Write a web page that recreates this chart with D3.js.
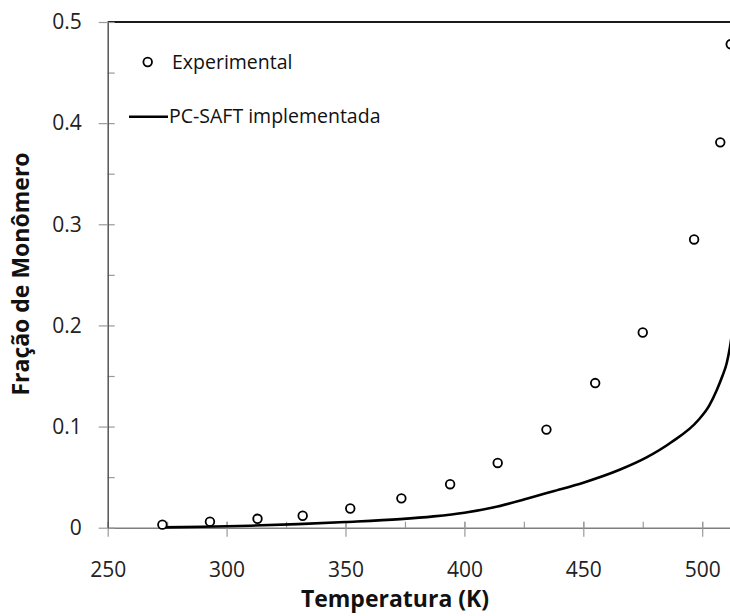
<!DOCTYPE html>
<html>
<head>
<meta charset="utf-8">
<script src="https://cdn.jsdelivr.net/npm/d3@7"></script>
<style>
  html, body { margin: 0; padding: 0; background: #fff; }
  svg { display: block; font-family: "Open Sans", sans-serif; }
</style>
</head>
<body>
<div id="chart"></div>
<script>
// experimental points
const expTemp = [273, 293, 313, 332, 352, 373.5, 394, 414, 434.5, 455, 475, 496.6, 507.6, 512];
const expFrac = [0.003, 0.006, 0.0088, 0.0118, 0.019, 0.029, 0.043, 0.064, 0.097, 0.143, 0.193, 0.285, 0.381, 0.478];

// PC-SAFT curve
const saftTemp = [273, 290, 310, 330, 350, 373, 387, 400, 412, 425, 437, 450, 465, 476.6, 487, 498.4, 503, 506.1, 508.5, 510.3, 511.7, 513];
const saftFrac = [0.0003, 0.0009, 0.0020, 0.0035, 0.0056, 0.0085, 0.0112, 0.0148, 0.0200, 0.0278, 0.0358, 0.0445, 0.0570, 0.0695, 0.0845, 0.1065, 0.1210, 0.1360, 0.1500, 0.1626, 0.1790, 0.2000];

const xTicks = [250, 300, 350, 400, 450, 500];
const xMinor = [250, 275, 300, 325, 350, 375, 400, 425, 450, 475, 500, 525];
const yTicks = [0, 0.1, 0.2, 0.3, 0.4, 0.5];
const yMinor = [0, 0.05, 0.1, 0.15, 0.2, 0.25, 0.3, 0.35, 0.4, 0.45, 0.5];

const width = 730, height = 616;
const x0 = 107.7, y0 = 527.7, yTop = 22;

const svg = d3.select("#chart").append("svg")
  .attr("width", width)
  .attr("height", height);

const x = d3.scaleLinear().domain([250, 550]).range([x0, x0 + 6 * 118.9]);
const y = d3.scaleLinear().domain([0, 0.5]).range([y0, yTop]);

// top border
svg.append("line")
  .attr("x1", x0).attr("x2", width)
  .attr("y1", yTop).attr("y2", yTop)
  .attr("stroke", "#1a1a1a").attr("stroke-width", 2);

// x axis: inside minor ticks, then crossing major ticks with labels
const gxMinor = svg.append("g")
  .attr("transform", `translate(0,${y0})`)
  .call(d3.axisTop(x).tickValues(xMinor).tickSize(6).tickSizeOuter(0).tickFormat(""));
gxMinor.select(".domain").remove();

const gx = svg.append("g")
  .attr("transform", `translate(0,${y0})`)
  .call(d3.axisBottom(x).tickValues(xTicks).tickSize(9).tickSizeOuter(0).tickPadding(25));
gx.select(".domain").attr("stroke", "#7f7f7f").attr("stroke-width", 1.5);
gx.selectAll(".tick line").attr("y1", -6);
svg.selectAll("g .tick line").attr("stroke", "#9a9a9a").attr("stroke-width", 1.2);
gx.selectAll("text")
  .attr("font-size", 21).attr("font-family", "Open Sans").attr("fill", "#222");

// y axis
const gyMinor = svg.append("g")
  .attr("transform", `translate(${x0},0)`)
  .call(d3.axisRight(y).tickValues(yMinor).tickSize(7).tickSizeOuter(0).tickFormat(""));
gyMinor.select(".domain").remove();
gyMinor.selectAll(".tick line").attr("stroke", "#9a9a9a").attr("stroke-width", 1.2);

const gy = svg.append("g")
  .attr("transform", `translate(${x0},0)`)
  .call(d3.axisLeft(y).tickValues(yTicks).tickSize(9).tickSizeOuter(0).tickPadding(17)
    .tickFormat(d => d === 0 ? "0" : d3.format(".1f")(d)));
gy.select(".domain").attr("stroke", "#555").attr("stroke-width", 1.5);
gy.selectAll(".tick line").attr("stroke", "#9a9a9a").attr("stroke-width", 1.2);
gy.selectAll("text")
  .attr("font-size", 21).attr("font-family", "Open Sans").attr("fill", "#222");

// PC-SAFT line
const line = d3.line()
  .x((d, i) => x(saftTemp[i]))
  .y(d => y(d))
  .curve(d3.curveMonotoneX);

svg.append("path")
  .datum(saftFrac)
  .attr("d", line)
  .attr("fill", "none")
  .attr("stroke", "#000")
  .attr("stroke-width", 2.6);

// experimental circles
svg.append("g")
  .selectAll("circle")
  .data(expFrac)
  .join("circle")
  .attr("cx", (d, i) => x(expTemp[i]))
  .attr("cy", d => y(d))
  .attr("r", 4.3)
  .attr("fill", "#fff")
  .attr("stroke", "#000")
  .attr("stroke-width", 1.8);

// legend
svg.append("circle")
  .attr("cx", 147.7).attr("cy", 62)
  .attr("r", 4.3).attr("fill", "#fff")
  .attr("stroke", "#000").attr("stroke-width", 1.8);
svg.append("text")
  .attr("x", 172).attr("y", 68.5)
  .attr("font-size", 19.5).attr("fill", "#111")
  .text("Experimental");

svg.append("line")
  .attr("x1", 129).attr("x2", 168)
  .attr("y1", 116.7).attr("y2", 116.7)
  .attr("stroke", "#000").attr("stroke-width", 2.6);
svg.append("text")
  .attr("x", 169).attr("y", 123)
  .attr("font-size", 19.5).attr("fill", "#111")
  .text("PC-SAFT implementada");

// axis titles
svg.append("text")
  .attr("x", 395).attr("y", 607)
  .attr("text-anchor", "middle")
  .attr("font-size", 23).attr("font-weight", "bold").attr("fill", "#111")
  .text("Temperatura (K)");

svg.append("text")
  .attr("transform", "translate(29,274) rotate(-90)")
  .attr("text-anchor", "middle")
  .attr("font-size", 23).attr("font-weight", "bold").attr("fill", "#111")
  .text("Fração de Monômero");
</script>
</body>
</html>
